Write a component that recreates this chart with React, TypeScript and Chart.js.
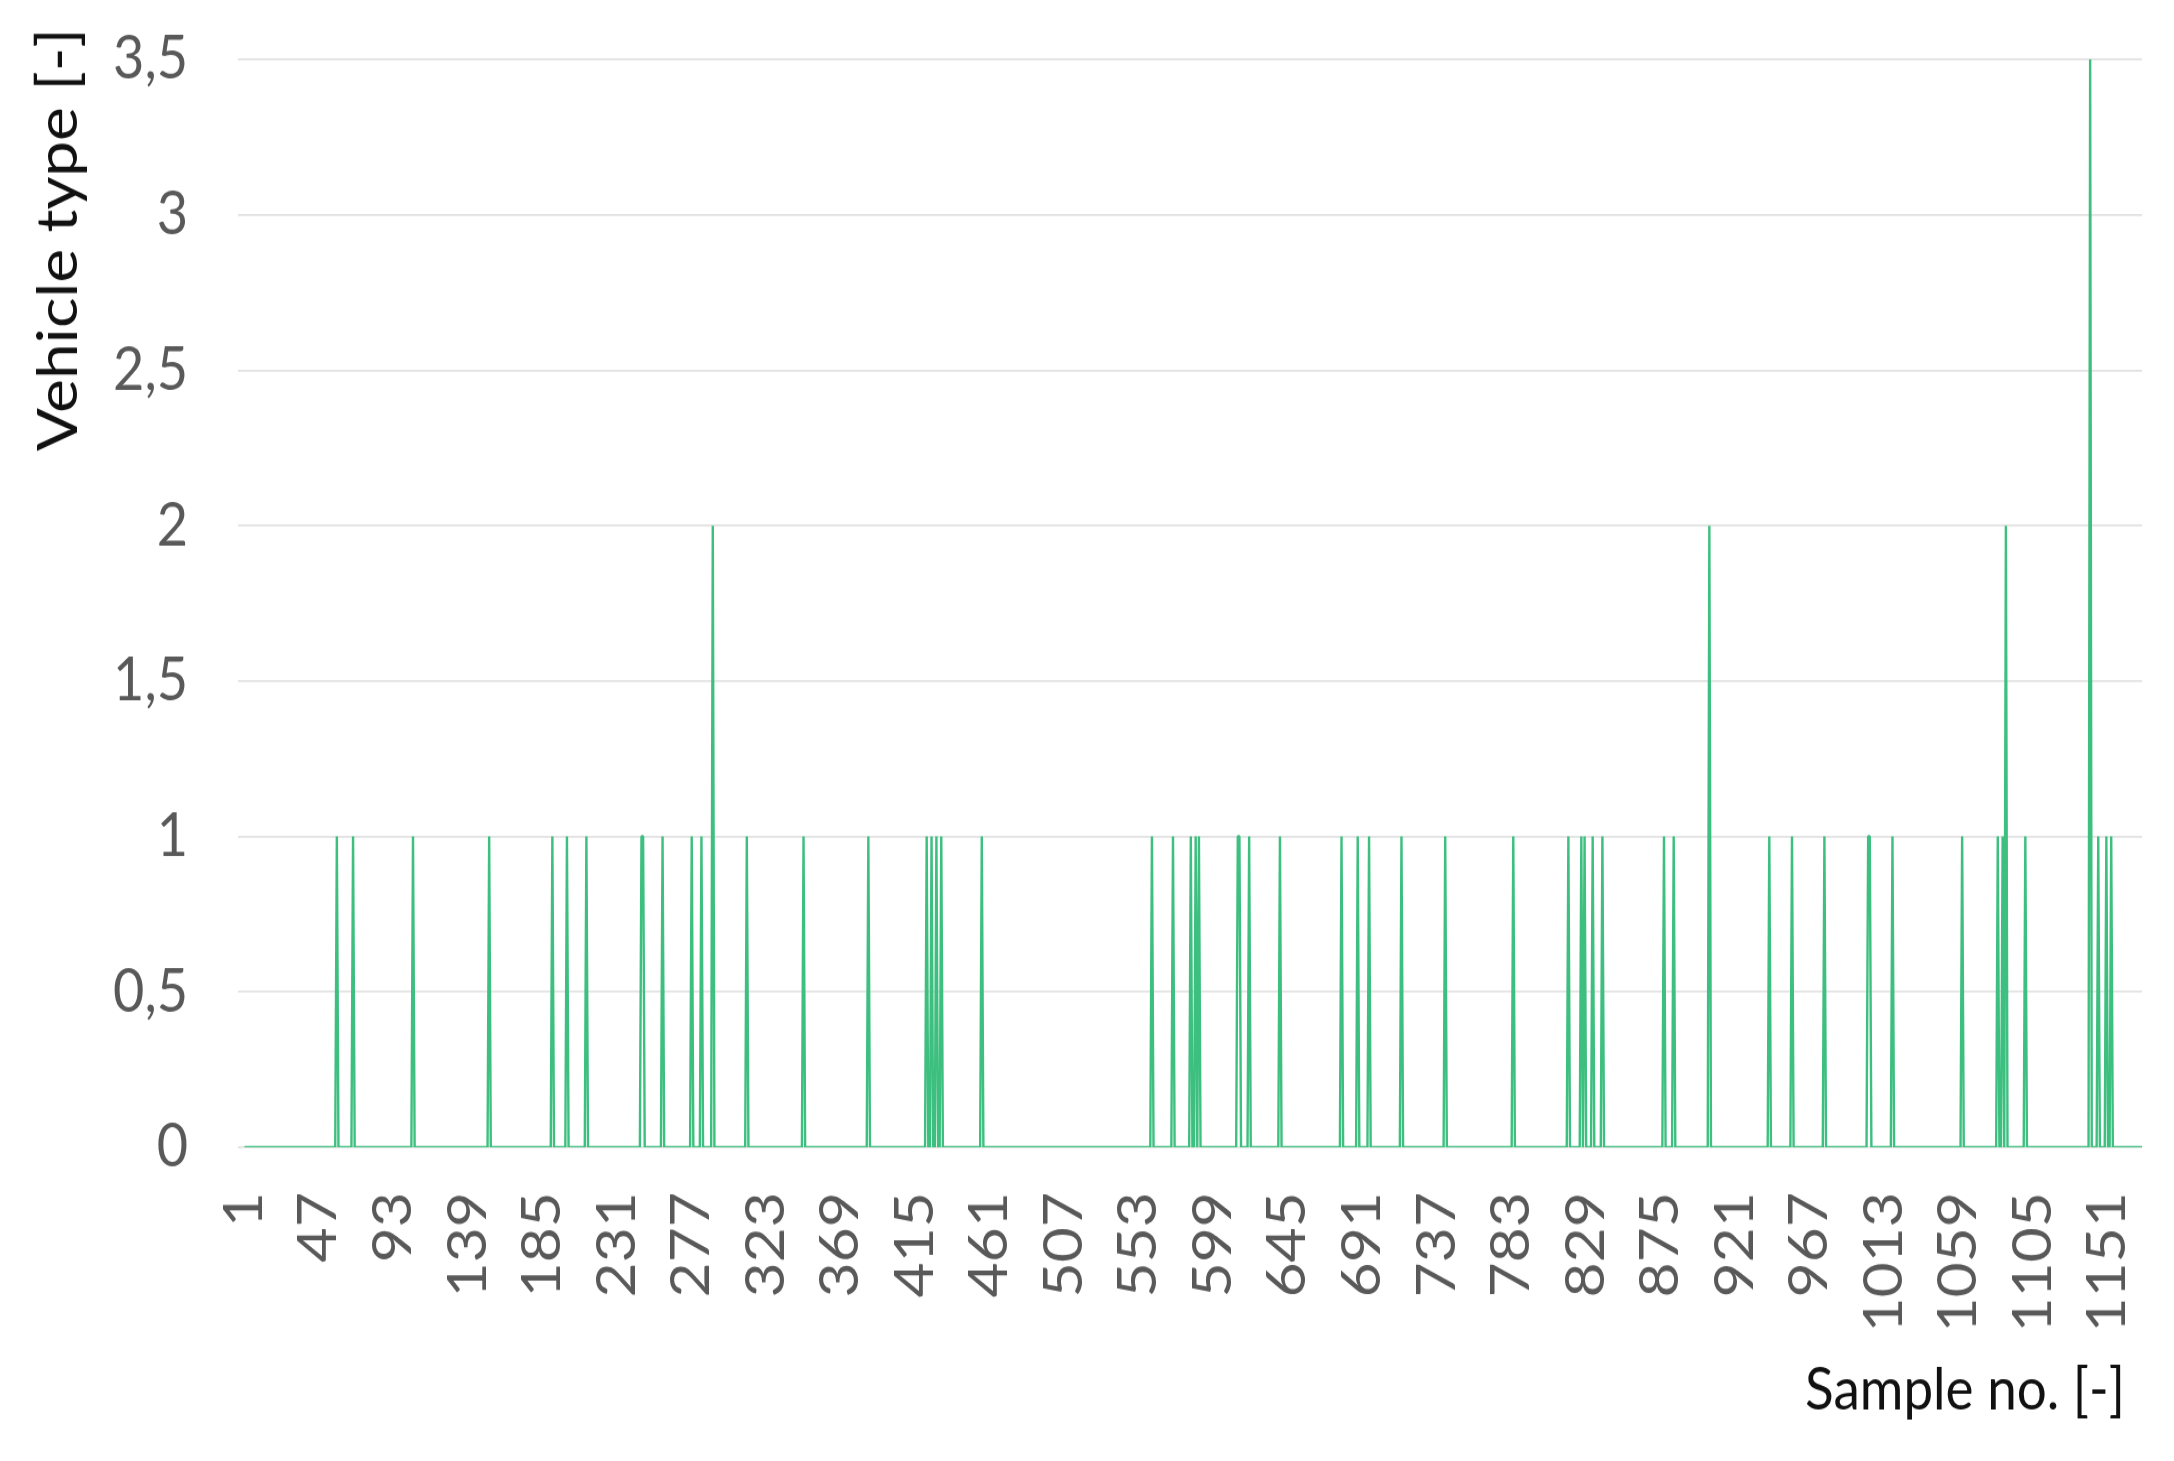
import { useEffect, useRef } from 'react';
import { Chart, registerables } from 'chart.js';

Chart.register(...registerables);

// ---- data ----
const sampleCount = 1172;
// sample numbers whose vehicle type is 1
const typeOneSamples = [
  58, 68, 105, 152, 191, 200, 212, 246, 247, 259, 277, 283, 311, 346, 386,
  422, 425, 428, 431, 456, 561, 574, 585, 588, 590, 614, 615, 621, 640, 678,
  688, 695, 715, 742, 784, 818, 826, 828, 833, 839, 877, 883, 942, 956, 976,
  1003, 1004, 1018, 1061, 1083, 1086, 1100, 1145, 1150, 1153,
];
// sample numbers whose vehicle type is 2
const typeTwoSamples = [290, 905, 1088];
// sample numbers whose vehicle type is 3.5
const typeThreeHalfSamples = [1140];

const xTickLabels = [
  1, 47, 93, 139, 185, 231, 277, 323, 369, 415, 461, 507, 553, 599, 645, 691,
  737, 783, 829, 875, 921, 967, 1013, 1059, 1105, 1151,
];
const yTickValues = [0, 0.5, 1, 1.5, 2, 2.5, 3, 3.5];

const xTitle = 'Sample no. [-]';
const yTitle = 'Vehicle type [-]';

// the picture is drawn on a canvas that is stretched vertically on screen
const PAGE_W = 2174;
const PAGE_H = 1461;
const V_STRETCH = 1.12;
const CANVAS_H = Math.round(PAGE_H / V_STRETCH);

function buildPoints() {
  const pts: { x: number; y: number }[] = [];
  for (let s = 1; s <= sampleCount; s++) {
    let y = 0;
    if (typeThreeHalfSamples.includes(s)) y = 3.5;
    else if (typeTwoSamples.includes(s)) y = 2;
    else if (typeOneSamples.includes(s)) y = 1;
    pts.push({ x: s, y });
  }
  return pts;
}

const titlePlugin = {
  id: 'axisTitlesCustom',
  afterDraw(chart: any) {
    const { ctx, chartArea } = chart;
    ctx.save();
    ctx.fillStyle = '#111111';
    ctx.textBaseline = 'middle';
    // y title
    ctx.font = '57px Lato';
    ctx.save();
    ctx.translate(59, chartArea.top - 28);
    ctx.rotate(-Math.PI / 2);
    ctx.textAlign = 'right';
    ctx.fillText(yTitle, 0, 0);
    ctx.restore();
    // x title
    ctx.font = '53px Lato';
    ctx.textAlign = 'right';
    ctx.fillText(xTitle, chartArea.right - 17, 1241);
    ctx.restore();
  },
};

export default function App() {
  const ref = useRef<HTMLCanvasElement | null>(null);

  useEffect(() => {
    document.body.style.margin = '0';
    const canvas = ref.current;
    if (!canvas) return;
    const tickFont = { family: 'Lato', size: 54 };
    const chart = new Chart(canvas, {
      type: 'line',
      data: {
        datasets: [
          {
            data: buildPoints(),
            borderColor: '#3dbf7f',
            borderWidth: 2.4,
            pointRadius: 0,
            borderJoinStyle: 'bevel',
            tension: 0,
          },
        ],
      },
      options: {
        animation: false,
        responsive: false,
        devicePixelRatio: 1,
        layout: { padding: { top: 53, right: 32, bottom: 0, left: 0 } },
        plugins: {
          legend: { display: false },
          tooltip: { enabled: false },
        },
        scales: {
          x: {
            type: 'linear',
            min: -3,
            max: sampleCount,
            grid: { display: false, drawTicks: false },
            border: { display: false },
            afterBuildTicks: (scale: any) => {
              scale.ticks = xTickLabels.map((v) => ({ value: v }));
            },
            afterFit: (scale: any) => {
              scale.height = 280;
              scale.paddingLeft = 0;
              scale.paddingRight = 0;
              scale.paddingTop = 0;
              scale.paddingBottom = 0;
            },
            ticks: {
              autoSkip: false,
              minRotation: 90,
              maxRotation: 90,
              padding: 40,
              color: '#595959',
              font: tickFont,
              callback: (v: any) => String(v),
            },
          },
          y: {
            min: 0,
            max: 3.5,
            afterBuildTicks: (scale: any) => {
              scale.ticks = yTickValues.map((v) => ({ value: v }));
            },
            afterFit: (scale: any) => {
              scale.width = 238;
              scale.paddingTop = 0;
              scale.paddingBottom = 0;
            },
            grid: { color: '#e2e2e2', lineWidth: 1.8, drawTicks: false },
            border: { display: false },
            ticks: {
              padding: 50,
              color: '#595959',
              font: tickFont,
              callback: (v: any) => String(v).replace('.', ','),
            },
          },
        },
      },
      plugins: [titlePlugin],
    } as any);
    return () => chart.destroy();
  }, []);

  return (
    <div style={{ width: PAGE_W, height: PAGE_H, background: '#ffffff' }}>
      <canvas
        ref={ref}
        width={PAGE_W}
        height={CANVAS_H}
        style={{ display: 'block', width: PAGE_W, height: PAGE_H }}
      />
    </div>
  );
}
